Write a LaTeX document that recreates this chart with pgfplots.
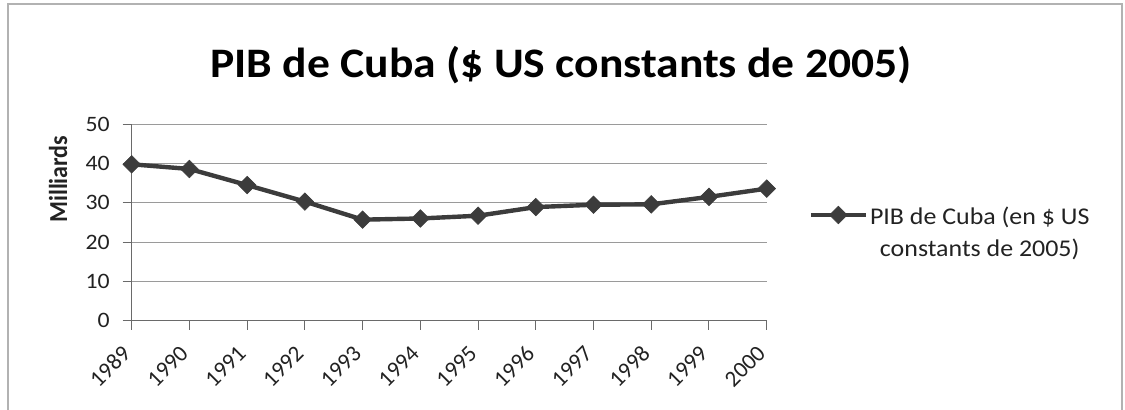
\documentclass[border=0pt]{standalone}
\usepackage{fontspec}
\setmainfont{Carlito}
\usepackage{pgfplots}
\pgfplotsset{compat=1.18}
\definecolor{lineg}{HTML}{3C3C3C}
\definecolor{gridg}{HTML}{9A9A9A}
\definecolor{axg}{HTML}{6A6A6A}
\definecolor{txt}{HTML}{222222}
\begin{document}
\begin{tikzpicture}[x=1pt,y=1pt]
\useasboundingbox (0,0) rectangle (562.5,204.5);
\draw[gray!60, line width=0.6pt] (4,-2) rectangle (561,202.5);
\node[anchor=base, font=\fontsize{21}{25}\selectfont\bfseries, text=black] at (280.5,166) {\scalebox{1.085}[1]{PIB de Cuba (\$ US constants de 2005)}};
\begin{axis}[
  at={(65.85pt,44.2pt)}, anchor=south west,
  scale only axis, width=317.5pt, height=98.2pt,
  xmin=0, xmax=11, ymin=0, ymax=50,
  xtick={0,...,11},
  xticklabels={1989,1990,1991,1992,1993,1994,1995,1996,1997,1998,1999,2000},
  x tick label style={yshift=-10pt, xshift=-2.5pt, rotate=45, anchor=east, inner sep=0pt, font=\fontsize{11.5}{13}\selectfont, text=txt},
  ytick={0,10,20,30,40,50},
  yticklabel={\scalebox{1.08}[1]{\pgfmathprintnumber{\tick}}},
  y tick label style={font=\fontsize{11}{13}\selectfont, text=txt, xshift=-3pt},
  /pgf/number format/assume math mode=true,
  ymajorgrids, major grid style={gridg, line width=0.5pt},
  axis x line=bottom, axis y line=left,
  axis line style={-, axg, line width=0.6pt},
  tick style={axg, line width=0.5pt},
  tick align=outside, major tick length=4.5pt,
  ylabel={\scalebox{1}[1.08]{\textbf{Milliards}}},
  ylabel style={font=\fontsize{12}{14}\selectfont, text=txt, at={(-0.116,0.72)}, anchor=center},
  clip=false,
  legend style={at={(1.056,0.645)}, anchor=north west, draw=none, fill=none,
    font=\fontsize{12}{16}\selectfont, text=txt, cells={anchor=west}, nodes={inner xsep=1pt}},
  legend image code/.code={\draw[mark repeat=2, mark phase=2] plot coordinates {(0pt,0pt) (13.75pt,0pt) (27.5pt,0pt)};},
]
\addplot[lineg, line width=2.2pt, mark=square*, mark size=3.1pt, mark options={rotate=45, fill=lineg, draw=lineg, line width=0.3pt}]
  coordinates {(0,39.8) (1,38.6) (2,34.5) (3,30.3) (4,25.7) (5,26.0) (6,26.7) (7,28.9) (8,29.5) (9,29.6) (10,31.5) (11,33.6)};
\addlegendentry{\scalebox{1.08}[1]{\begin{tabular}[t]{@{}c@{}}PIB de Cuba (en \$ US\\constants de 2005)\end{tabular}}}
\end{axis}
\end{tikzpicture}
\end{document}
